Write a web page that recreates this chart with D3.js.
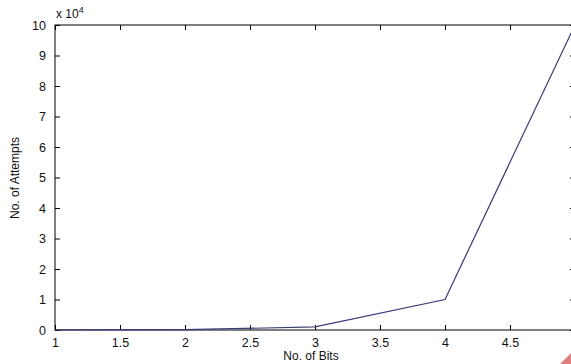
<!DOCTYPE html>
<html>
<head>
<meta charset="utf-8" />
<title>No. of Attempts vs No. of Bits</title>
<style>
  body { margin: 0; background: white; }
  text { font-family: "Liberation Sans", Arial, sans-serif; font-size: 12px; fill: #111; }
</style>
<script src="https://cdnjs.cloudflare.com/ajax/libs/d3/7.8.5/d3.min.js"></script>
</head>
<body>
<script>
var bits = [1, 2, 3, 4, 5];
var attempts = [10, 100, 1000, 10000, 100000];
var xTicks = [1, 1.5, 2, 2.5, 3, 3.5, 4, 4.5, 5];
var yTicks = [0, 1, 2, 3, 4, 5, 6, 7, 8, 9, 10];

var width = 571, height = 364;
var pLeft = 55, pTop = 25, pRight = 575, pBottom = 330;

var svg = d3.select("body").append("svg")
    .attr("width", width)
    .attr("height", height);

var x = d3.scaleLinear().domain([1, 5]).range([pLeft, pRight]);
var y = d3.scaleLinear().domain([0, 10]).range([pBottom, pTop]);

// box
svg.append("rect")
    .attr("x", pLeft).attr("y", pTop)
    .attr("width", pRight - pLeft).attr("height", pBottom - pTop)
    .attr("fill", "none").attr("stroke", "#000").attr("stroke-width", 1);

// ticks pointing inward, MATLAB style
function styleAxis(g) {
  g.select(".domain").remove();
  g.selectAll("line").attr("stroke", "#000");
  g.selectAll("text").style("font-size", "12.5px").attr("fill", "#111");
}

// the last x label falls outside the cropped picture
var xFmt = function(d) { return d < 5 ? String(d) : ""; };

svg.append("g").attr("transform", "translate(0," + pBottom + ")")
  .call(d3.axisBottom(x).tickValues(xTicks).tickSizeInner(-5).tickPadding(8).tickFormat(xFmt))
  .call(styleAxis);
svg.append("g").attr("transform", "translate(0," + pTop + ")")
  .call(d3.axisTop(x).tickValues(xTicks).tickSizeInner(-5).tickFormat(""))
  .call(styleAxis);
svg.append("g").attr("transform", "translate(" + pLeft + ",0)")
  .call(d3.axisLeft(y).tickValues(yTicks).tickSizeInner(-5).tickPadding(9).tickFormat(d3.format("")))
  .call(styleAxis);
svg.append("g").attr("transform", "translate(" + pRight + ",0)")
  .call(d3.axisRight(y).tickValues(yTicks).tickSizeInner(-5).tickFormat(""))
  .call(styleAxis);

// exponent label
var ex = svg.append("text").attr("x", pLeft + 1).attr("y", pTop - 7);
ex.append("tspan").text("x 10");
ex.append("tspan").attr("dy", -5).style("font-size", "9px").text("4");

// line
var line = d3.line()
    .x(function(d, i) { return x(bits[i]); })
    .y(function(d) { return y(d / 10000); });

svg.append("path")
    .datum(attempts)
    .attr("d", line)
    .attr("fill", "none")
    .attr("stroke", "#3a3a78")
    .attr("stroke-width", 1.2);

// axis titles
svg.append("text")
    .attr("x", 311).attr("y", 360)
    .attr("text-anchor", "middle")
    .text("No. of Bits");

svg.append("text")
    .attr("transform", "translate(19,178) rotate(-90)")
    .attr("text-anchor", "middle")
    .text("No. of Attempts");

// corner mark in the picture
svg.append("path")
    .attr("d", "M" + (width - 11) + "," + height + " L" + width + "," + (height - 11) + " L" + width + "," + height + "Z")
    .attr("fill", "#e07f7f");
</script>
</body>
</html>
